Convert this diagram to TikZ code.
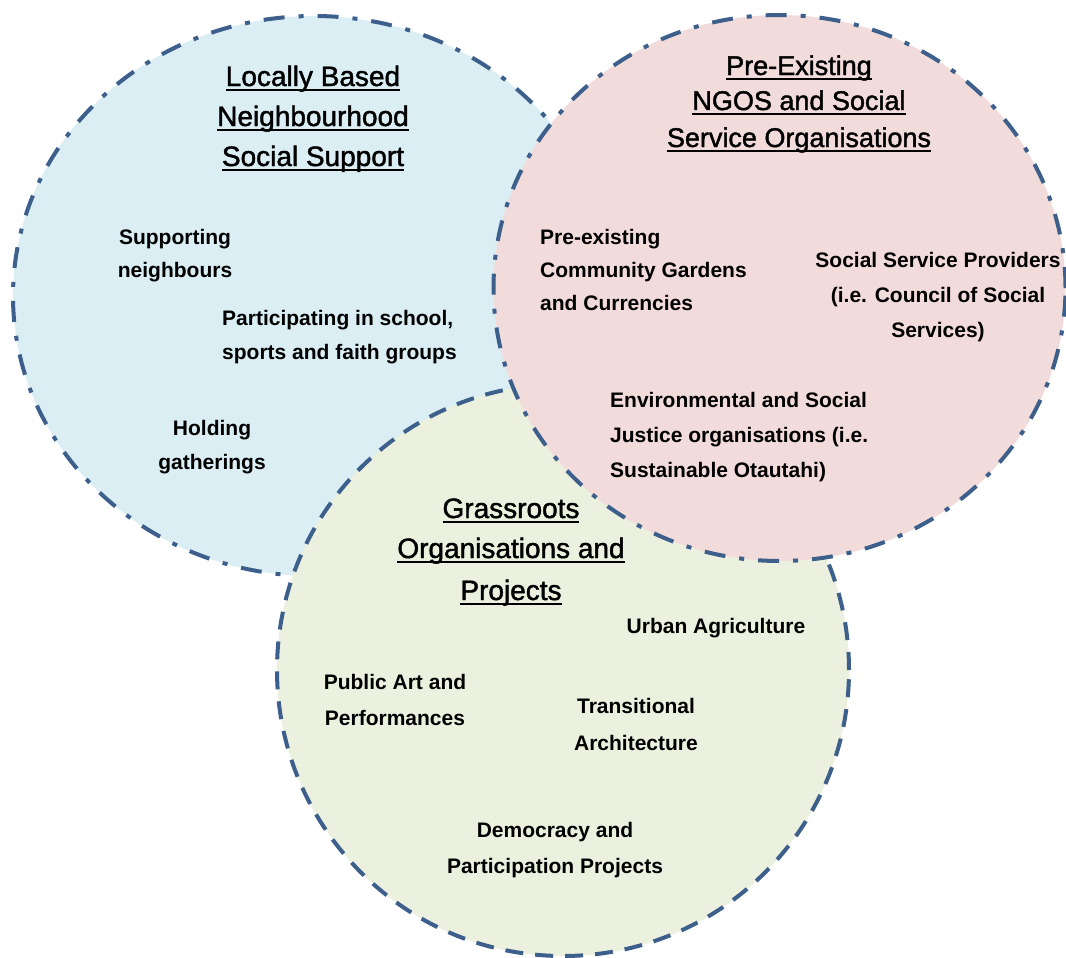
\documentclass[tikz,border=0pt]{standalone}
\usepackage{fontspec}
\setmainfont{Liberation Sans}
\newfontfamily\ttlfont[FakeBold=1.5]{Liberation Sans}
\definecolor{ringc}{RGB}{60,95,140}
\definecolor{bluef}{RGB}{218,238,243}
\definecolor{pinkf}{RGB}{242,220,219}
\definecolor{greenf}{RGB}{235,241,222}
\newcommand\ulx[1]{\setbox0\hbox{#1}\rlap{\rule[-5pt]{\wd0}{1.8pt}}\box0}
\begin{document}
\begin{tikzpicture}[x=1pt,y=-1pt,
  ring/.style={line width=4pt, draw=ringc},
  dashdot/.style={dash pattern=on 21pt off 14pt on 5pt off 14pt},
  dashonly/.style={dash pattern=on 18pt off 12pt},
  ttl/.style={inner sep=0pt, anchor=base, font=\ttlfont\fontsize{28}{40}\selectfont},
  ttlp/.style={inner sep=0pt, anchor=base, font=\ttlfont\fontsize{27}{36}\selectfont},
  bodyc/.style={inner sep=0pt, anchor=base, font=\bfseries\fontsize{21}{34}\selectfont},
  bodyl/.style={inner sep=0pt, anchor=base west, font=\bfseries\fontsize{21}{34}\selectfont},
]
\useasboundingbox (0,0) rectangle (1066,958);
\fill[white] (0,0) rectangle (1066,958);
% circles
\path[ring, dashdot, fill=bluef] (314,296) ellipse [x radius=301pt, y radius=280pt];
\path[ring, dashonly, fill=greenf] (563,670) circle [radius=286pt];
\path[ring, dashdot, fill=pinkf] (779.5,288) ellipse [x radius=286pt, y radius=273pt];

% blue title
\node[ttl] (bt1) at (313,86) {\ulx{Locally Based}};
\node[ttl] (bt2) at (313,126) {\ulx{Neighbourhood}};
\node[ttl] (bt3) at (313,166) {\ulx{Social Support}};
% pink title
\node[ttlp] (pt1) at (799,75) {\ulx{Pre-Existing}};
\node[ttlp] (pt2) at (799,110) {\ulx{NGOS and Social}};
\node[ttlp] (pt3) at (799,147) {\ulx{Service Organisations}};
% green title
\node[ttl] (gt1) at (511,518) {\ulx{Grassroots}};
\node[ttl] (gt2) at (511,558) {\ulx{Organisations and}};
\node[ttl] (gt3) at (511,600) {\ulx{Projects}};

% blue items
\node[bodyc] (sn1) at (175,244) {Supporting};
\node[bodyc] (sn2) at (175,277) {neighbours};
\node[bodyl] (ps1) at (222,325) {Participating in school,};
\node[bodyl] (ps2) at (222,359) {sports and faith groups};
\node[bodyc] (hg1) at (212,435) {Holding};
\node[bodyc] (hg2) at (212,469) {gatherings};

% pink items
\node[bodyl] (pe1) at (540,244) {Pre-existing};
\node[bodyl] (pe2) at (540,277) {Community Gardens};
\node[bodyl] (pe3) at (540,310) {and Currencies};
\node[bodyc] (ss1) at (938,267) {Social Service Providers};
\node[bodyc] (ss2) at (938,302) {(i.e. Council of Social};
\node[bodyc] (ss3) at (938,337) {Services)};
\node[bodyl] (es1) at (610,407) {Environmental and Social};
\node[bodyl] (es2) at (610,442) {Justice organisations (i.e.};
\node[bodyl] (es3) at (610,477) {Sustainable Otautahi)};

% green items
\node[bodyc] (ua) at (716,633) {Urban Agriculture};
\node[bodyc] (pa1) at (395,689) {Public Art and};
\node[bodyc] (pa2) at (395,725) {Performances};
\node[bodyc] (ta1) at (636,713) {Transitional};
\node[bodyc] (ta2) at (636,750) {Architecture};
\node[bodyc] (dp1) at (555,837) {Democracy and};
\node[bodyc] (dp2) at (555,873) {Participation Projects};
\end{tikzpicture}
\end{document}
